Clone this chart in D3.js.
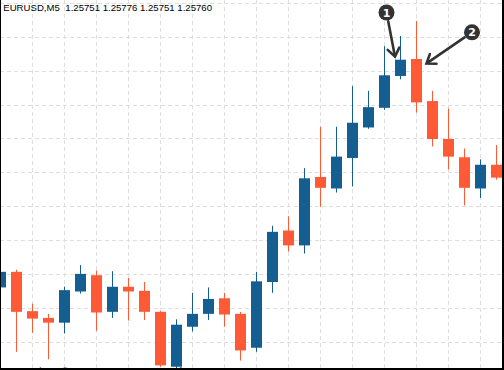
<!DOCTYPE html>
<html><head><meta charset="utf-8">
<script src="https://cdn.jsdelivr.net/npm/d3@7"></script>
<style>html,body{margin:0;padding:0;background:#fff;} svg{display:block}</style>
</head><body>
<svg id="chart" width="504" height="370"></svg>
<script>
// ---- data ----
const times = ["13:25","13:30","13:35","13:40","13:45","13:50","13:55","14:00","14:05","14:10","14:15","14:20","14:25","14:30","14:35","14:40","14:45","14:50","14:55","15:00","15:05","15:10","15:15","15:20","15:25","15:30","15:35","15:40","15:45","15:50","15:55","16:00"];
const open  = [1.25731,1.25754,1.25696,1.25686,1.25679,1.25725,1.25749,1.25695,1.25732,1.25726,1.25695,1.25614,1.25673,1.25692,1.25715,1.25692,1.25642,1.25739,1.25815,1.25793,1.25894,1.25877,1.25922,1.25967,1.25996,1.26043,1.26068,1.26006,1.25950,1.25923,1.25877,1.25912];
const high  = [1.25754,1.25757,1.25707,1.25692,1.25732,1.25764,1.25756,1.25755,1.25745,1.25739,1.25696,1.25684,1.25723,1.25731,1.25723,1.25695,1.25754,1.25822,1.25836,1.25907,1.25968,1.25968,1.26028,1.26021,1.26087,1.26102,1.26124,1.26021,1.25995,1.25936,1.25920,1.25941];
const low   = [1.25731,1.25636,1.25664,1.25625,1.25663,1.25722,1.25667,1.25686,1.25682,1.25683,1.25614,1.25612,1.25666,1.25683,1.25673,1.25623,1.25636,1.25723,1.25784,1.25781,1.25850,1.25871,1.25880,1.25965,1.25993,1.26038,1.25989,1.25939,1.25905,1.25852,1.25863,1.25890];
const close = [1.25754,1.25695,1.25685,1.25679,1.25727,1.25751,1.25694,1.25732,1.25725,1.25695,1.25616,1.25676,1.25692,1.25714,1.25691,1.25638,1.25740,1.25813,1.25793,1.25892,1.25878,1.25924,1.25974,1.25997,1.26044,1.26067,1.26004,1.25950,1.25924,1.25878,1.25912,1.25893];
const priceTicks = [1.2565,1.2570,1.2575,1.2580,1.2585,1.2590,1.2595,1.2600,1.2605,1.2610,1.2615];
const headerSymbol = "EURUSD,M5";
const headerValues = ["1.25751","1.25776","1.25751","1.25760"];
const footerText = "MetaTrader 4, \u00A9 2001-2018 MetaQuotes Software Corp.";
const markerLabels = ["1","2"];
const markerCandles = [25, 26];

// ---- drawing ----
const W = 504, H = 370;
const svg = d3.select("#chart");
const bull = "#155E92", bear = "#FF5A36";

const x = d3.scalePoint().domain(times).range([0.5, 496.5]);
const y = d3.scaleLinear().domain([1.2565, 1.2610]).range([342.33, 37.33]);

const candles = times.map((t, i) => ({t, o: open[i], h: high[i], l: low[i], c: close[i]}));

// grid
const grid = svg.append("g").attr("stroke", "#dedede").attr("stroke-width", 1).attr("stroke-dasharray", "4,3");
grid.selectAll("line.h").data(priceTicks).join("line").attr("class", "h")
  .attr("x1", 0).attr("x2", W)
  .attr("y1", d => Math.floor(y(d)) + 0.5).attr("y2", d => Math.floor(y(d)) + 0.5);
grid.selectAll("line.v").data(times.filter((t, i) => i % 2 === 0 && i > 0)).join("line").attr("class", "v")
  .attr("y1", 0).attr("y2", H)
  .attr("x1", d => x(d)).attr("x2", d => x(d));

// candles
const cg = svg.append("g");
const g = cg.selectAll("g").data(candles).join("g");
g.append("line")
  .attr("x1", d => x(d.t)).attr("x2", d => x(d.t))
  .attr("y1", d => y(d.h)).attr("y2", d => y(d.l))
  .attr("stroke", d => d.c >= d.o ? bull : bear).attr("stroke-width", 1);
g.append("rect")
  .attr("x", d => x(d.t) - 5.5).attr("width", 11)
  .attr("y", d => y(Math.max(d.o, d.c)))
  .attr("height", d => Math.max(1, Math.abs(y(d.o) - y(d.c))))
  .attr("fill", d => d.c >= d.o ? bull : bear);

// header text
const font = "'Liberation Sans', Arial, sans-serif";
svg.append("text").attr("x", 3.3).attr("y", 10.8).attr("font-family", font).attr("font-size", 9.6)
  .attr("fill", "#000").text(headerSymbol);
svg.append("text").attr("x", 65.3).attr("y", 10.8).attr("font-family", font).attr("font-size", 9.6)
  .attr("fill", "#000").text(headerValues.join(" "));

// footer text (mostly hidden under the frame)
svg.append("text").attr("x", 3).attr("y", 373.6).attr("font-family", font).attr("font-size", 9)
  .attr("fill", "#333").text(footerText);

// frame
svg.append("rect").attr("x", 0).attr("y", 0).attr("width", 1).attr("height", H).attr("fill", "#000");
svg.append("rect").attr("x", W - 2).attr("y", 0).attr("width", 2).attr("height", H).attr("fill", "#000");
svg.append("rect").attr("x", 0).attr("y", H - 2).attr("width", W).attr("height", 2).attr("fill", "#000");

// annotations: arrows pointing at candles 25 and 26
const ann = [
  {label: markerLabels[0], tip: [x(times[markerCandles[0]]) - 5.5, y(close[markerCandles[0]]) - 3], circ: [386.5, 12.5]},
  {label: markerLabels[1], tip: [x(times[markerCandles[1]]) + 10, y(open[markerCandles[1]]) + 4.5], circ: [472, 32.3]}
];
const dark = "#333";
ann.forEach(a => {
  const [tx, ty] = a.tip, [cx, cy] = a.circ;
  const dx = tx - cx, dy = ty - cy, len = Math.hypot(dx, dy);
  const ux = dx / len, uy = dy / len;
  const sx = cx + ux * 9, sy = cy + uy * 9;
  svg.append("line").attr("x1", sx).attr("y1", sy).attr("x2", tx - ux * 1.5).attr("y2", ty - uy * 1.5)
    .attr("stroke", dark).attr("stroke-width", 2.6).attr("stroke-linecap", "round");
  const L = 10, th = 36 * Math.PI / 180;
  const bx = -ux, by = -uy;
  const a1 = [tx + L * (bx * Math.cos(th) - by * Math.sin(th)), ty + L * (bx * Math.sin(th) + by * Math.cos(th))];
  const a2 = [tx + L * (bx * Math.cos(-th) - by * Math.sin(-th)), ty + L * (bx * Math.sin(-th) + by * Math.cos(-th))];
  svg.append("path").attr("d", `M${a1[0]},${a1[1]}L${tx},${ty}L${a2[0]},${a2[1]}`)
    .attr("fill", "none").attr("stroke", dark).attr("stroke-width", 2.6)
    .attr("stroke-linejoin", "miter").attr("stroke-linecap", "round");
  svg.append("circle").attr("cx", cx).attr("cy", cy).attr("r", 8).attr("fill", dark);
  svg.append("text").attr("x", cx).attr("y", cy + 4).attr("text-anchor", "middle")
    .attr("font-family", "'DejaVu Sans', sans-serif").attr("font-weight", "bold").attr("font-size", 11)
    .attr("fill", "#fff").text(a.label);
});
</script>
</body></html>
